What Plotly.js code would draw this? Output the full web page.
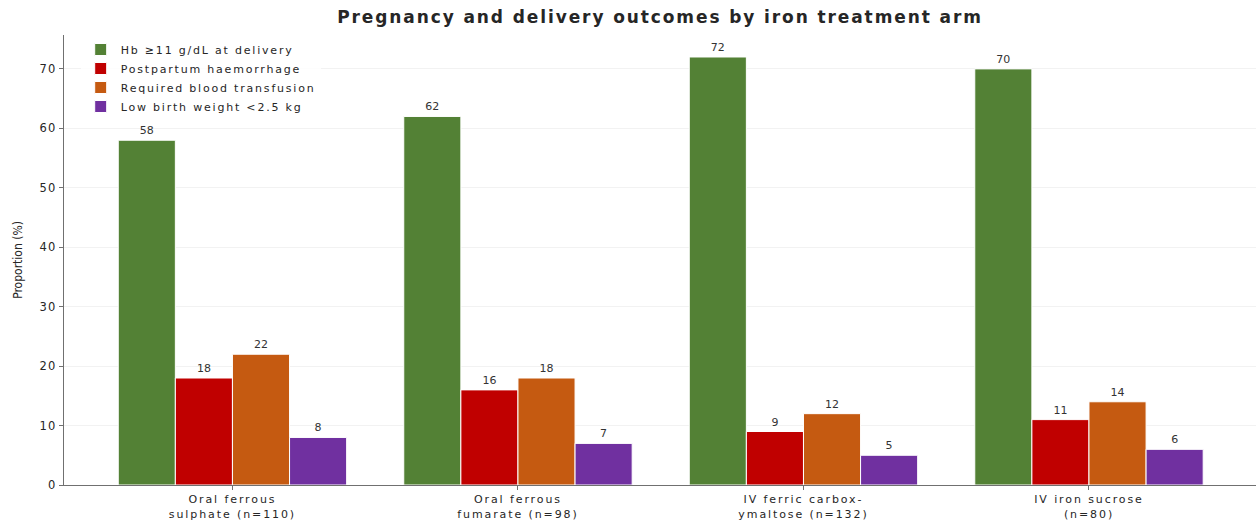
<!DOCTYPE html>
<html><head><meta charset="utf-8">
<script src="https://cdn.plot.ly/plotly-3.0.1.min.js"></script>
<style>
body{margin:0;background:#fff}#c{width:1256px;height:520px}
.gtitle{letter-spacing:1.9px}
.legendtext{letter-spacing:1.8px}
.xtick text{letter-spacing:1.9px}
.ytick text{letter-spacing:1.2px}
.textpoint text{letter-spacing:1.2px}
</style>
</head><body><div id="c"></div>
<script>
const categories = ["Oral ferrous<br>sulphate (n=110)", "Oral ferrous<br>fumarate (n=98)", "IV ferric carbox-<br>ymaltose (n=132)", "IV iron sucrose<br>(n=80)"];
const seriesNames = ["Hb ≥11 g/dL at delivery", "Postpartum haemorrhage", "Required blood transfusion", "Low birth weight <2.5 kg"];
const hbValues = [58, 62, 72, 70];
const pphValues = [18, 16, 9, 11];
const transfusionValues = [22, 18, 12, 14];
const lbwValues = [8, 7, 5, 6];
const colors = ["#538135", "#C00000", "#C55A11", "#7030A0"];

const allValues = [hbValues, pphValues, transfusionValues, lbwValues];
const xIdx = categories.map((_, i) => i);
const traces = allValues.map((vals, k) => ({
  type: "bar", name: seriesNames[k], x: xIdx, y: vals,
  marker: {color: colors[k], line: {color: "#ffffff", width: 1}},
  text: vals.map(String), textposition: "outside", cliponaxis: false,
  textfont: {family: "DejaVu Sans", size: 11, color: "#333333"},
  hoverinfo: "skip"
}));

const layout = {
  width: 1256, height: 520,
  margin: {l: 64, r: 0, t: 35, b: 35},
  paper_bgcolor: "#ffffff", plot_bgcolor: "#ffffff",
  title: {text: "<b>Pregnancy and delivery outcomes by iron treatment arm</b>", xref: "paper", x: 0.5, xanchor: "center", y: 0.979, yanchor: "top",
          font: {family: "DejaVu Sans", size: 17, color: "#262626"}},
  barmode: "group", bargap: 0.2, bargroupgap: 0,
  xaxis: {tickvals: xIdx, ticktext: categories, range: [-0.59, 3.585],
          showline: true, linecolor: "#707070", linewidth: 1.2, ticks: "outside", ticklen: 4, tickcolor: "#707070",
          showgrid: false, zeroline: false,
          tickfont: {family: "DejaVu Sans", size: 11, color: "#262626"}},
  yaxis: {range: [0, 75.7], tickvals: [0,10,20,30,40,50,60,70],
          showline: true, linecolor: "#707070", linewidth: 1.2, ticks: "outside", ticklen: 4, tickcolor: "#707070",
          showgrid: true, gridcolor: "#f2f2f2", gridwidth: 1, zeroline: false,
          tickfont: {family: "DejaVu Sans", size: 11.5, color: "#262626"},
          title: {text: "Proportion (%)", standoff: 14, font: {family: "DejaVu Sans Condensed, DejaVu Sans", size: 12, color: "#262626"}}},
  legend: {x: 0.014, y: 1.0, xanchor: "left", yanchor: "top", bgcolor: "rgba(255,255,255,0.8)",
           font: {family: "DejaVu Sans", size: 11, color: "#262626"}, tracegroupgap: 0, itemwidth: 30},
  showlegend: true
};
Plotly.newPlot("c", traces, layout, {displayModeBar: false, staticPlot: true});
</script></body></html>
